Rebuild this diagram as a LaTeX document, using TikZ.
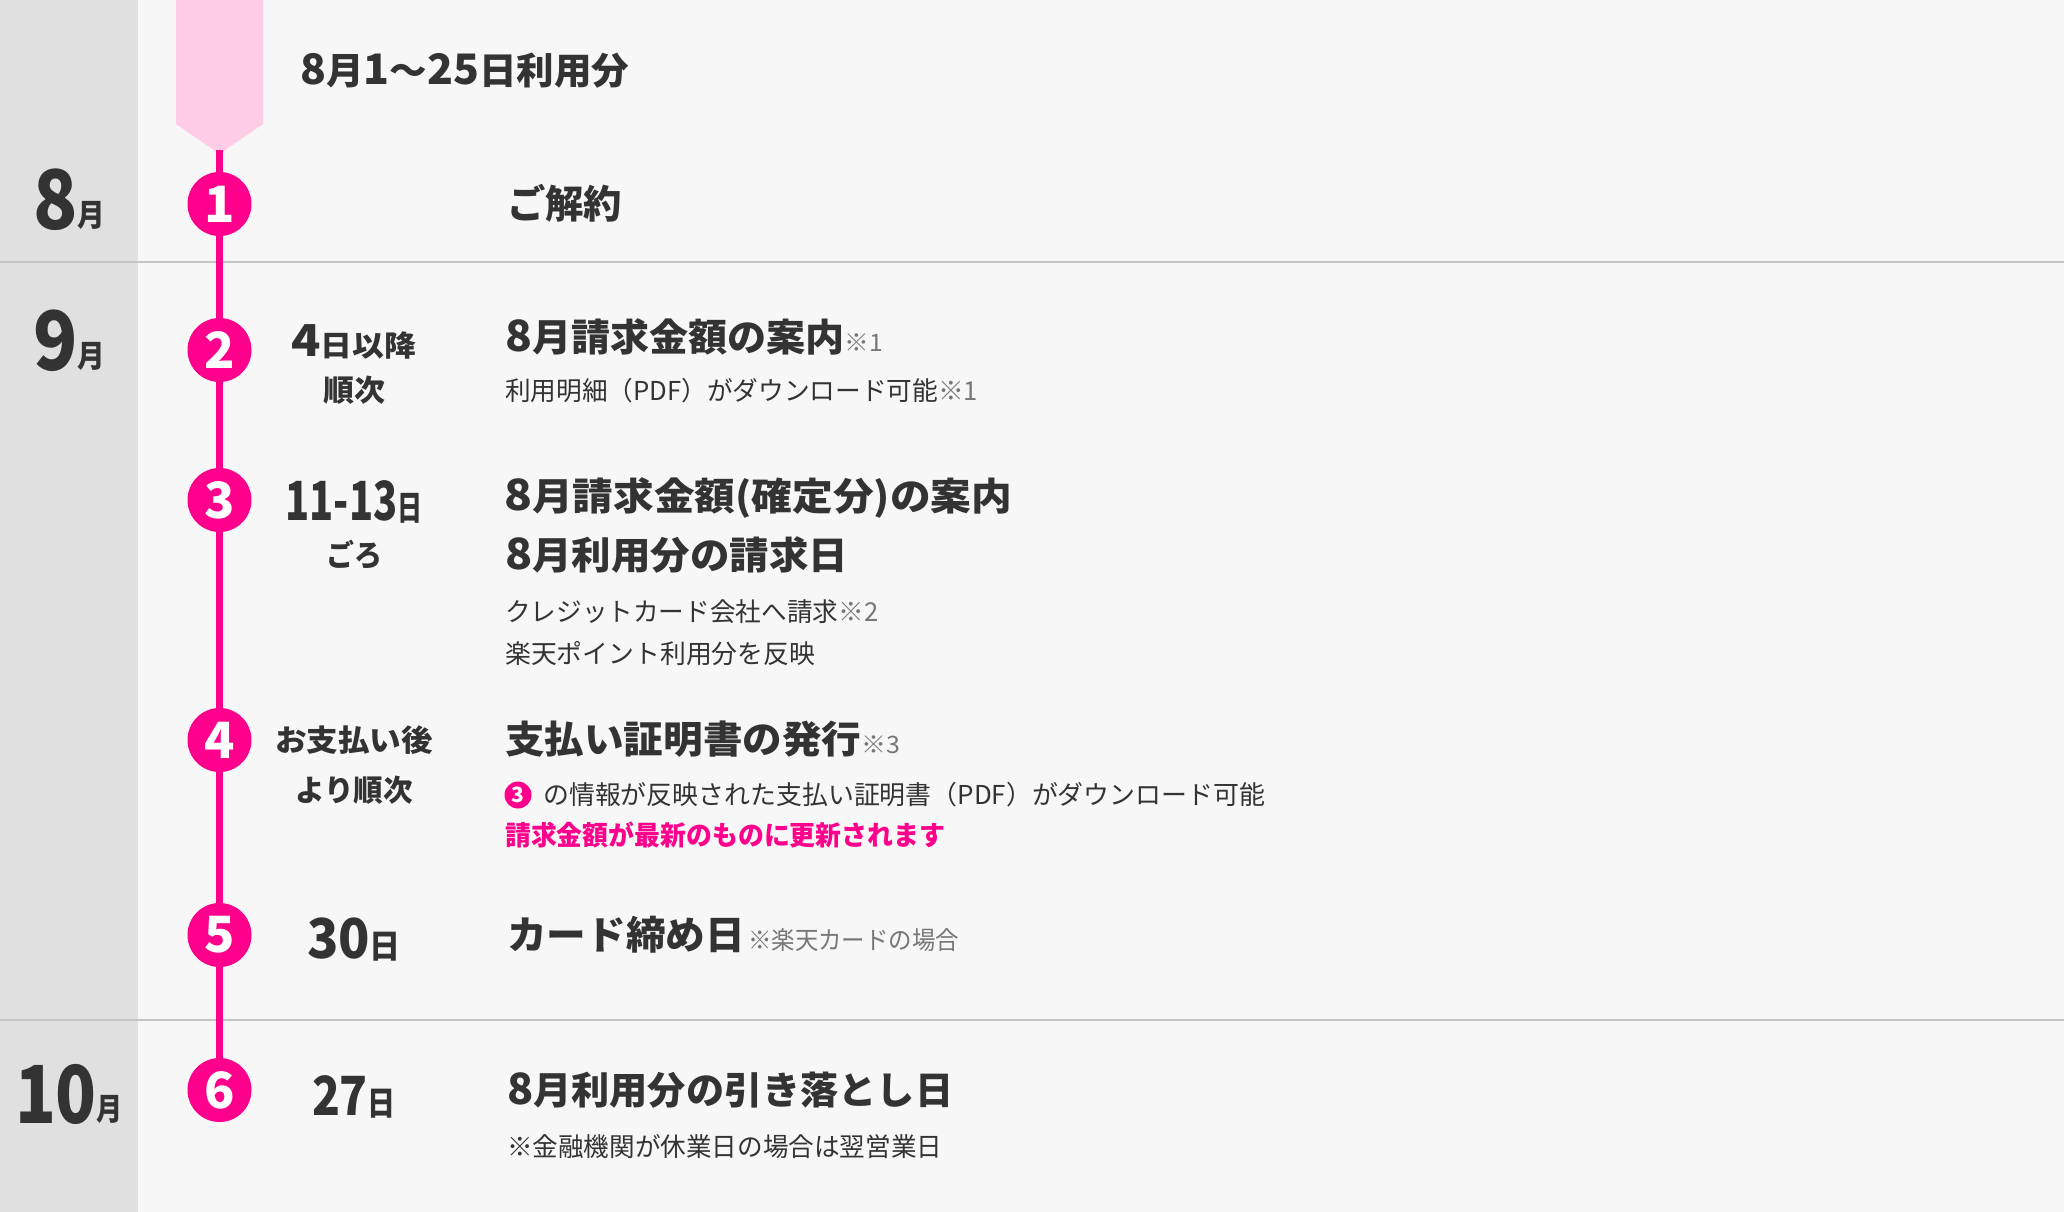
\documentclass[tikz,border=0pt]{standalone}
\usepackage{fontspec}
\usepackage{graphicx}
\newfontfamily\jp{Noto Sans CJK JP}
\definecolor{bgc}{HTML}{F7F7F7}
\definecolor{colgray}{HTML}{E0E0E0}
\definecolor{rulec}{HTML}{C4C4C4}
\definecolor{pinkl}{HTML}{FFCCE5}
\definecolor{mag}{HTML}{FF008C}
\definecolor{txt}{HTML}{333333}
\definecolor{note}{HTML}{777777}
\newcommand\fw[2]{\resizebox{#1pt}{\height}{#2}}
\newcommand\dg[2]{{\jp\fontsize{#1}{#1}\selectfont #2}}
\newcommand\js[1]{\fontsize{#1}{#1}\selectfont}
\tikzset{
  numc/.style={circle, fill=mag, text=white, minimum size=64pt, inner sep=0pt, font=\jp\bfseries},
  vline/.style={draw=mag, line width=7pt},
  rulel/.style={draw=rulec, line width=2pt},
  head/.style={anchor=west, inner sep=0pt, text=txt, font=\jp\bfseries},
  subt/.style={anchor=west, inner sep=0pt, text=txt, font=\jp},
  datet/.style={anchor=center, inner sep=0pt, text=txt, font=\jp\bfseries},
  month/.style={anchor=center, inner sep=0pt, text=txt, font=\jp\bfseries},
}
\begin{document}
\begin{tikzpicture}[x=1pt,y=-1pt]
\fill[bgc] (0,0) rectangle (2064,1212);
\useasboundingbox (0,0) rectangle (2064,1212);
\fill[colgray] (0,0) rectangle (138,1212);
\draw[rulel] (0,262) -- (2064,262);
\draw[rulel] (0,1020) -- (2064,1020);
% pink banner
\fill[pinkl] (176,0) -- (263,0) -- (263,124) -- (219.5,154) -- (176,124) -- cycle;
\coordinate (tip) at (219.5,150);
% circles
\node[numc] (c1) at (219.5,204) {\dg{50}{1}};
\node[numc] (c2) at (219.5,350) {\dg{50}{2}};
\node[numc] (c3) at (219.5,500) {\dg{50}{3}};
\node[numc] (c4) at (219.5,740) {\dg{50}{4}};
\node[numc] (c5) at (219.5,935) {\dg{50}{5}};
\node[numc] (c6) at (219.5,1090) {\dg{50}{6}};
\draw[vline] (tip) -- (c1) (c1) -- (c2) (c2) -- (c3) (c3) -- (c4) (c4) -- (c5) (c5) -- (c6);
% months
\node[month] (m8) at (69,200) {\fw{72}{\dg{82}{8}\raisebox{3pt}{\js{31}月}}};
\node[month] (m9) at (69,341) {\fw{72}{\dg{82}{9}\raisebox{3pt}{\js{31}月}}};
\node[month] (m10) at (69,1094) {\fw{108}{\dg{80}{10}\raisebox{3pt}{\js{31}月}}};
% top label
\node[head] (t0) at (300,71) {\fw{329}{\js{37}\dg{42}{8}月\dg{42}{1}〜\dg{42}{25}日利用分}};
\node[head] (t1) at (507,203) {\fw{115}{\js{39}ご解約}};
% date column
\node[datet] (d2a) at (354,342) {\fw{125}{\dg{44}{4}\js{29}日以降}};
\node[datet] (d2b) at (354,390) {\fw{62}{\js{30}順次}};
\node[datet] (d3a) at (354,502) {\fw{137}{\dg{54}{11-13}\js{34}日}};
\node[datet] (d3b) at (354,555) {\fw{56}{\js{30}ごろ}};
\node[datet] (d4a) at (354,740) {\fw{158}{\js{30}お支払い後}};
\node[datet] (d4b) at (354,790) {\fw{118}{\js{30}より順次}};
\node[datet] (d5) at (354,940) {\fw{94}{\dg{55}{30}\js{33}日}};
\node[datet] (d6) at (354,1097) {\fw{84}{\dg{54}{27}\js{33}日}};
% main column
\node[head] (h2) at (505,337) {\fw{378}{\js{38}\dg{43}{8}月請求金額の案内{\mdseries\color{note}\js{24}※1}}};
\node[subt] (s2) at (505,391) {\fw{473}{\js{26}利用明細（PDF）がダウンロード可能{\color{note}※1}}};
\node[head] (h3a) at (504,498) {\fw{508}{\js{38}\dg{43}{8}月請求金額(確定分)の案内}};
\node[head] (h3b) at (505,555) {\fw{343}{\js{38}\dg{43}{8}月利用分の請求日}};
\node[subt] (s3a) at (505,612) {\fw{373}{\js{26}クレジットカード会社へ請求{\color{note}※2}}};
\node[subt] (s3b) at (505,654) {\fw{310}{\js{26}楽天ポイント利用分を反映}};
\node[head] (h4) at (505,739) {\fw{395}{\js{38}支払い証明書の発行{\mdseries\color{note}\js{24}※3}}};
\node[numc, minimum size=27pt] (c3s) at (518,795) {\dg{21}{3}};
\node[subt] (s4) at (543,795) {\fw{722}{\js{26}の情報が反映された支払い証明書（PDF）がダウンロード可能}};
\node[head, text=mag] (p4) at (505,835) {\fw{440}{\js{27}請求金額が最新のものに更新されます}};
\node[head] (h5) at (507,935) {\fw{238}{\js{39}カード締め日}\hspace{3pt}\fw{211}{\mdseries\color{note}\js{25}※楽天カードの場合}};
\node[head] (h6) at (507,1090) {\fw{446}{\js{38}\dg{43}{8}月利用分の引き落とし日}};
\node[subt] (s6) at (507,1147) {\fw{435}{\js{26}※金融機関が休業日の場合は翌営業日}};
\end{tikzpicture}
\end{document}
